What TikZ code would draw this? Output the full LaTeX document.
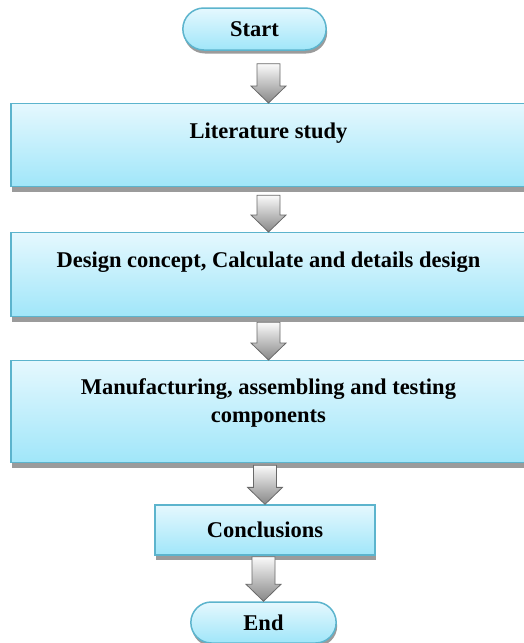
\documentclass[tikz,border=0pt]{standalone}
\usepackage{fontspec}
\setmainfont{Liberation Serif}
\usetikzlibrary{shapes.misc,shadows,calc}

\definecolor{boxtop}{RGB}{229,248,254}
\definecolor{boxbot}{RGB}{160,230,249}
\definecolor{boxline}{RGB}{92,180,205}
\definecolor{shadowgray}{RGB}{155,155,155}
\definecolor{arrtop}{RGB}{250,250,250}
\definecolor{arrbot}{RGB}{135,135,135}
\definecolor{arrline}{RGB}{105,105,105}

% fat arrow from the bottom of #2 down to the top of #3, #1 = gap below #2
\newcommand{\flowarrow}[3][8]{%
 \path[flowarr] ($(#3.north |- #2.south)+(-11.5,-#1)$) -- ++(23,0)
  -- ($(#3.north)+(11.5,17)$) -- ++(6,0) -- (#3.north)
  -- ++(-17.5,17) -- ++(6,0) -- cycle;}

\begin{document}
\begin{tikzpicture}[x=1pt,y=1pt]
\tikzstyle{every node}=[font=\fontsize{22.5}{28}\selectfont\bfseries]
\tikzstyle{pill}=[rounded rectangle,draw=boxline,line width=1.5pt,top color=boxtop,bottom color=boxbot,minimum width=150pt,minimum height=42pt,drop shadow={shadow xshift=1pt,shadow yshift=-3.5pt,fill=shadowgray,opacity=1}]
\tikzstyle{stepbox}=[rectangle,draw=boxline,line width=1.3pt,top color=boxtop,bottom color=boxbot,inner ysep=0pt,minimum width=515pt,anchor=north,drop shadow={shadow xshift=1pt,shadow yshift=-5pt,fill=shadowgray,opacity=1}]
\tikzstyle{flowarr}=[draw=arrline,line width=0.8pt,top color=arrtop,bottom color=arrbot]

\useasboundingbox (0,0) rectangle (524,-643);

\node [pill] (start) at (254.5,-29) {Start};
\node [stepbox,text height=35pt,text depth=48pt] (lit) at (268.5,-103) {Literature study};
\node [stepbox,text height=34.5pt,text depth=49.5pt] (design) at (268.5,-232) {Design concept, Calculate and details design};
\node [stepbox,text height=34pt,text depth=68pt] (manuf) at (268.5,-360)
 {\begin{tabular}[t]{@{}c@{}}Manufacturing, assembling and testing\\components\end{tabular}};
\node [stepbox,anchor=center,minimum width=220pt,minimum height=50pt] (concl) at (265,-530) {Conclusions};
\node [pill,minimum width=152pt,minimum height=41pt] (end) at (263.5,-622.5) {End};

\flowarrow[13]{start}{lit}
\flowarrow[8]{lit}{design}
\flowarrow[5]{design}{manuf}
\flowarrow[2]{manuf}{concl}
\flowarrow[1]{concl}{end}
\end{tikzpicture}
\end{document}
